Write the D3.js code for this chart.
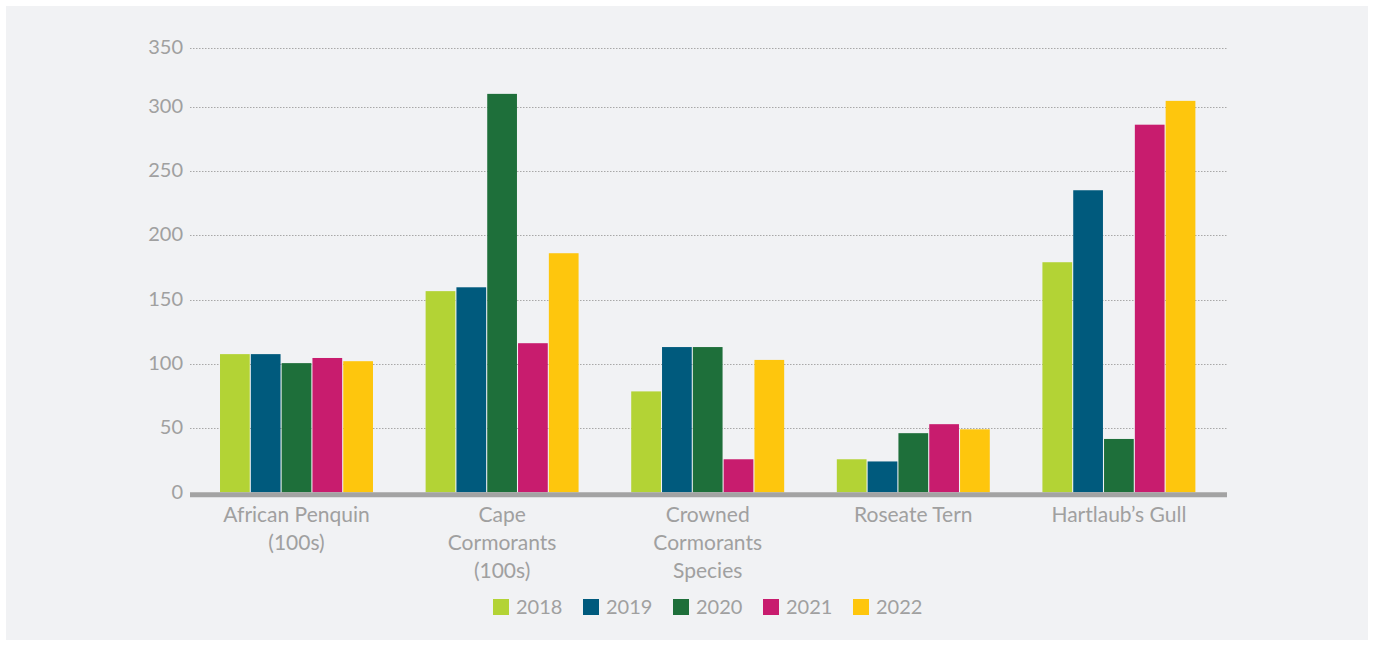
<!DOCTYPE html>
<html>
<head>
<meta charset="utf-8">
<script src="https://cdn.jsdelivr.net/npm/d3@7"></script>
<style>
  body { margin: 0; background: #fff; }
  svg { display: block; font-family: Lato, "Open Sans", sans-serif; }
</style>
</head>
<body>
<figure style="margin:0"></figure>
<script>
// data
const categories = [
  ['African Penquin', '(100s)'],
  ['Cape', 'Cormorants', '(100s)'],
  ['Crowned', 'Cormorants', 'Species'],
  ['Roseate Tern'],
  ['Hartlaub\u2019s Gull']
]
const years = ['2018', '2019', '2020', '2021', '2022']
const v2018 = [107.5, 156.5, 78.5, 25.7, 179]
const v2019 = [107.5, 159.5, 113, 24, 235]
const v2020 = [100.5, 311, 113, 46, 41.5]
const v2021 = [104.5, 116, 25.7, 53, 286]
const v2022 = [102, 186, 103, 49, 305]
const yTicks = [0, 50, 100, 150, 200, 250, 300, 350]
const colors = ['#b3d335', '#005a7d', '#1e6f3a', '#c81c6e', '#fec60d']

const series = [v2018, v2019, v2020, v2021, v2022]

const W = 1373, H = 646
const svg = d3.select('figure').append('svg')
    .attr('width', W)
    .attr('height', H)

// panel background
svg.append('rect')
    .attr('x', 6).attr('y', 6)
    .attr('width', 1362).attr('height', 634)
    .attr('fill', '#f1f2f4')

const left = 190, right = 1227
const x0 = d3.scaleBand()
    .domain(d3.range(categories.length))
    .range([193.7, 1221.7])
    .paddingInner(0.256)
    .paddingOuter(0.128)
const x1 = d3.scaleBand()
    .domain(years)
    .range([0, x0.bandwidth()])
    .paddingInner(0.035)
// top tick sits a bit low in the original, so the scale is piecewise
const y = d3.scaleLinear()
    .domain([0, 300, 350])
    .range([492.3, 106.7, 48.4])

const grey = '#a0a0a0'

// gridlines
svg.append('g')
  .selectAll('line')
  .data(yTicks.filter(d => d > 0))
  .join('line')
    .attr('x1', left).attr('x2', right + 1)
    .attr('y1', d => Math.round(y(d)) + 0.5)
    .attr('y2', d => Math.round(y(d)) + 0.5)
    .attr('stroke', '#a8a8a8')
    .attr('stroke-width', 1)
    .attr('stroke-dasharray', '1.5,1.5')

// y labels
svg.append('g')
  .selectAll('text')
  .data(yTicks)
  .join('text')
    .attr('x', 183)
    .attr('y', d => y(d) + (d === 0 ? 2 : 1))
    .attr('text-anchor', 'end')
    .attr('dominant-baseline', 'middle')
    .attr('font-size', 20)
    .attr('fill', grey)
    .text(d => d)

// bars
const groups = svg.append('g')
  .selectAll('g')
  .data(categories)
  .join('g')
    .attr('transform', (d, i) => 'translate(' + x0(i) + ',0)')

groups.selectAll('rect')
  .data((d, i) => years.map((yr, j) => ({yr: yr, val: series[j][i], c: colors[j]})))
  .join('rect')
    .attr('x', d => x1(d.yr))
    .attr('width', x1.bandwidth())
    .attr('y', d => y(d.val))
    .attr('height', d => y(0) - y(d.val))
    .attr('fill', d => d.c)

// baseline
svg.append('line')
    .attr('x1', left).attr('x2', right)
    .attr('y1', y(0) + 2.5).attr('y2', y(0) + 2.5)
    .attr('stroke', '#a3a3a3')
    .attr('stroke-width', 5)

// category labels
groups.each(function(lines) {
  d3.select(this).selectAll('text')
    .data(lines)
    .join('text')
      .attr('x', x0.bandwidth() / 2)
      .attr('y', (d, k) => 522 + k * 28)
      .attr('text-anchor', 'middle')
      .attr('font-size', 21)
      .attr('fill', grey)
      .text(d => d)
})

// legend
const legend = svg.append('g')
  .selectAll('g')
  .data(years)
  .join('g')
    .attr('transform', (d, i) => 'translate(' + (493 + i * 90) + ',599)')
legend.append('rect')
    .attr('width', 16).attr('height', 16)
    .attr('fill', (d, i) => colors[i])
legend.append('text')
    .attr('x', 23).attr('y', 15)
    .attr('font-size', 20)
    .attr('fill', grey)
    .text(d => d)
</script>
</body>
</html>
